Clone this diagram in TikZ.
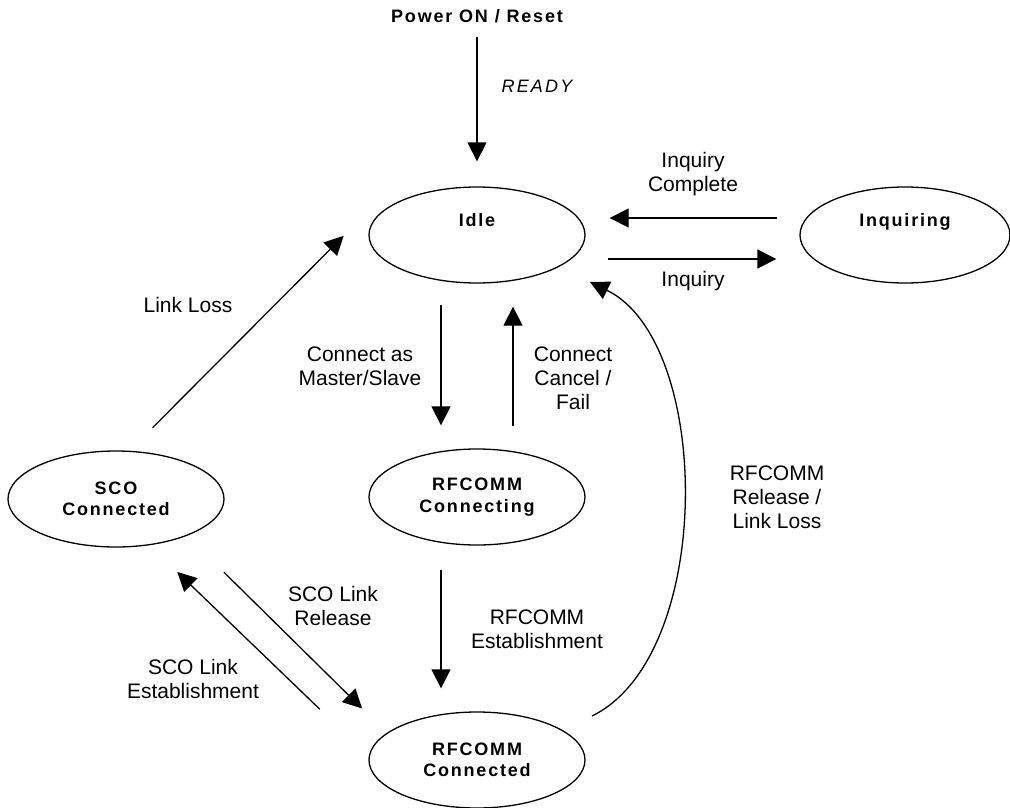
\documentclass[tikz,border=0pt]{standalone}
\usepackage{fontspec}
\setmainfont{Liberation Sans}
\newfontfamily\statefont{Liberation Sans}[LetterSpace=10]
\newfontfamily\readyfont{Liberation Sans}[LetterSpace=12]
\usetikzlibrary{shapes.geometric, arrows.meta}

\begin{document}
\begin{tikzpicture}[x=1pt, y=-1pt, line width=1.3pt,
    state/.style={ellipse, draw, minimum width=216pt, minimum height=96pt,
        inner sep=0pt, align=center,
        font=\statefont\bfseries\fontsize{18}{21.5}\selectfont},
    upper/.style={text depth=30pt},
    lbl/.style={align=center, inner sep=0pt, font=\fontsize{21}{24}\selectfont},
    trans/.style={-{Triangle[length=19pt, width=19pt]}}]
\useasboundingbox (0,0) rectangle (1010,808);

\node[inner sep=0pt, anchor=base,
    font=\statefont\bfseries\fontsize{18}{21}\selectfont] (power) at (477,23)
    {Power ON / Reset};
\node[state, upper] (idle) at (477,235) {Idle};
\node[state, upper, minimum width=210pt] (inq) at (905,235) {Inquiring};
\node[state] (sco) at (116,499) {SCO\\Connected};
\node[state] (conn) at (477,497) {RFCOMM\\Connecting};
\node[state] (rfc) at (477,760) {RFCOMM\\Connected};

\node[lbl, font=\readyfont\itshape\fontsize{18}{21}\selectfont] (lready)
    at (537,86) {READY};
\node[lbl] (linqc) at (693,174) {Inquiry\\Complete};
\node[lbl] (linq) at (693,281) {Inquiry};
\node[lbl] (lloss) at (188,305) {Link Loss};
\node[lbl] (lmaster) at (360,366) {Connect as\\Master/Slave};
\node[lbl] (lcancel) at (573,378) {Connect\\Cancel /\\Fail};
\node[lbl] (lrelease) at (777,497) {RFCOMM\\Release /\\Link Loss};
\node[lbl] (lestab) at (537,629) {RFCOMM\\Establishment};
\node[lbl] (lscorel) at (333,606) {SCO Link\\Release};
\node[lbl] (lscoest) at (193,679) {SCO Link\\Establishment};

\draw
    (power) edge[trans, shorten <=13pt, shorten >=25pt] (idle)
    ([yshift=17pt]inq.west) edge[trans, shorten <=22pt, shorten >=24pt]
        ([yshift=17pt]idle.east)
    ([yshift=-24pt]idle.east) edge[trans, shorten <=22pt, shorten >=23pt]
        ([yshift=-24pt]inq.west)
    ([xshift=14pt]sco.north) edge[trans, shorten <=32pt, shorten >=35pt]
        ([yshift=24pt]idle.west)
    ([xshift=-36pt]idle.south) edge[trans, shorten <=21pt, shorten >=23pt]
        ([xshift=-36pt]conn.north)
    ([xshift=36pt]conn.north) edge[trans, shorten <=22pt, shorten >=23pt]
        ([xshift=36pt]idle.south)
    ([xshift=-36pt]conn.south) edge[trans, shorten <=24pt, shorten >=23pt]
        ([xshift=-36pt]rfc.north)
    ([xshift=83pt]sco.south) edge[trans, shorten <=35pt, shorten >=4pt]
        ([xshift=-112pt]rfc.north)
    ([xshift=-155pt]rfc.north) edge[trans, shorten <=3pt, shorten >=35pt]
        ([xshift=36pt]sco.south);
\draw[trans] ([xshift=115pt, yshift=44pt]rfc.center)
    .. controls +(123,-60) and +(123,60) ..
    ([xshift=113pt, yshift=-47pt]idle.center);
\end{tikzpicture}
\end{document}
